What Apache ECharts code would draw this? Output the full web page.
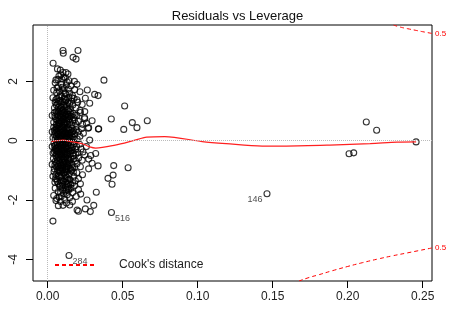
<!DOCTYPE html>
<html>
<head>
<meta charset="utf-8">
<script src="https://cdn.jsdelivr.net/npm/echarts@6.0.0/dist/echarts.min.js"></script>
<style>
  html, body { margin: 0; padding: 0; background: #fff; }
  #chart { width: 449px; height: 309px; }
</style>
</head>
<body>
<div id="chart"></div>
<script>
// tick labels
var xTicks = [0, 0.05, 0.10, 0.15, 0.20, 0.25];
var yTicks = [-4, -2, 0, 2];

// leverage / standardized residual pairs
var points = [
  // top outliers
  [0.0102,3.04],[0.0104,2.95],[0.0202,3.04],[0.0169,2.81],[0.0189,2.75],[0.0036,2.61],[0.0084,2.38],[0.0102,2.3],[0.0375,2.04],
  // 2.0 .. 2.5
  [0.0055,2.05],[0.0075,2.18],[0.0095,2.08],[0.0118,2.12],[0.0142,2.02],[0.0065,2.42],[0.0122,2.3],[0.0135,2.25],[0.0178,2.0],
  [0.0088,2.22],[0.0108,2.14],[0.0068,2.06],
  // 1.5 .. 2.0
  [0.005,1.95],[0.007,1.82],[0.009,1.9],[0.011,1.76],[0.013,1.98],[0.0155,1.85],[0.006,1.62],[0.0085,1.55],[0.0105,1.68],
  [0.012,1.58],[0.0145,1.6],[0.018,1.72],[0.0215,1.65],[0.004,1.7],[0.0165,1.52],[0.0195,1.9],
  [0.0264,1.71],[0.0313,1.56],[0.0336,1.52],[0.0251,1.43],
  [0.0078,1.68],[0.0098,1.8],[0.0125,1.88],[0.0062,1.78],[0.0115,1.6],[0.0138,1.74],
  // 1.0 .. 1.5
  [0.0035,1.45],[0.005,1.3],[0.0062,1.42],[0.0071,1.12],[0.008,1.35],[0.0088,1.22],[0.0095,1.48],[0.0103,1.05],[0.011,1.3],
  [0.0118,1.4],[0.0126,1.15],[0.0134,1.28],[0.0142,1.46],[0.015,1.08],[0.0158,1.33],[0.0167,1.2],[0.0176,1.42],[0.0188,1.1],
  [0.02,1.3],[0.0215,1.02],[0.023,1.22],[0.0045,1.1],[0.0058,1.2],[0.0067,1.02],[0.0092,1.12],[0.0115,1.2],[0.0138,1.02],
  [0.0162,1.45],[0.0195,1.38],[0.0082,1.0],[0.028,1.26],[0.0513,1.17],[0.0247,0.98],
  [0.0054,1.38],[0.0066,1.25],[0.0076,1.46],[0.0085,1.08],[0.0098,1.32],[0.0107,1.18],[0.0122,1.36],[0.013,1.06],[0.0146,1.24],
  [0.0096,1.02],[0.0112,1.44],[0.0072,1.32],
  // 0.5 .. 1.0
  [0.003,0.85],[0.004,0.62],[0.0045,0.95],[0.0052,0.75],[0.0058,0.55],[0.0063,0.88],[0.0068,0.68],[0.0073,0.98],[0.0078,0.58],
  [0.0083,0.8],[0.0088,0.92],[0.0093,0.65],[0.0098,0.52],[0.0103,0.85],[0.0108,0.72],[0.0113,0.95],[0.0118,0.6],[0.0123,0.78],
  [0.0128,0.9],[0.0133,0.55],[0.0138,0.7],[0.0143,0.98],[0.0148,0.62],[0.0155,0.82],[0.0162,0.53],[0.017,0.92],[0.0178,0.7],
  [0.0186,0.58],[0.0195,0.85],[0.0205,0.65],[0.0218,0.95],[0.0232,0.55],[0.0056,0.98],[0.0066,0.52],[0.0076,0.75],[0.0086,0.6],
  [0.0096,0.9],[0.0106,0.58],[0.0116,0.82],[0.0126,0.65],[0.0136,0.88],[0.0146,0.75],[0.0166,0.68],[0.0182,0.86],[0.0245,0.78],
  [0.0424,0.73],[0.0564,0.61],[0.0664,0.67],[0.0296,0.67],[0.0247,0.74],[0.0258,0.59],
  [0.0048,0.82],[0.006,0.7],[0.007,0.84],[0.008,0.66],[0.009,0.78],[0.01,0.7],[0.011,0.62],[0.012,0.88],[0.013,0.74],
  [0.014,0.82],[0.0152,0.94],[0.0172,0.78],[0.0092,0.97],[0.0112,0.54],[0.0074,0.6],[0.0104,0.94],
  // 0 .. 0.5
  [0.003,0.3],[0.0035,0.1],[0.004,0.45],[0.0046,0.2],[0.005,0.05],[0.0054,0.38],[0.0058,0.15],[0.0062,0.42],[0.0066,0.25],
  [0.007,0.02],[0.0074,0.35],[0.0078,0.12],[0.0082,0.48],[0.0086,0.28],[0.009,0.08],[0.0094,0.4],[0.0098,0.18],[0.0102,0.32],
  [0.0106,0.04],[0.011,0.45],[0.0114,0.22],[0.0118,0.1],[0.0122,0.38],[0.0126,0.16],[0.013,0.3],[0.0134,0.03],[0.0138,0.44],
  [0.0142,0.2],[0.0146,0.35],[0.015,0.08],[0.0156,0.27],[0.0162,0.42],[0.0168,0.12],[0.0174,0.33],[0.018,0.22],[0.0188,0.46],
  [0.0196,0.06],[0.0205,0.3],[0.0215,0.15],[0.0225,0.4],[0.0238,0.25],[0.0052,0.28],[0.0064,0.06],[0.0072,0.2],[0.0084,0.38],
  [0.0092,0.14],[0.01,0.26],[0.0108,0.36],[0.0116,0.3],[0.0124,0.06],[0.0132,0.24],[0.0144,0.1],[0.0158,0.18],[0.0176,0.05],
  [0.0192,0.36],[0.0595,0.44],[0.0507,0.38],[0.0338,0.39],[0.034,0.4],[0.0273,0.44],[0.0269,0.42],[0.028,0.02],
  [0.0044,0.34],[0.0056,0.46],[0.0068,0.4],[0.0076,0.24],[0.0088,0.16],[0.0096,0.46],[0.0112,0.14],[0.012,0.26],[0.0128,0.42],
  [0.0136,0.12],[0.0148,0.24],[0.0164,0.3],[0.0082,0.04],[0.0104,0.22],[0.006,0.32],[0.014,0.38],
  // -0.5 .. 0
  [0.003,-0.2],[0.0036,-0.42],[0.0042,-0.08],[0.0048,-0.3],[0.0053,-0.15],[0.0057,-0.46],[0.0061,-0.05],[0.0065,-0.35],
  [0.0069,-0.22],[0.0073,-0.4],[0.0077,-0.1],[0.0081,-0.28],[0.0085,-0.48],[0.0089,-0.18],[0.0093,-0.33],[0.0097,-0.03],
  [0.0101,-0.25],[0.0105,-0.44],[0.0109,-0.12],[0.0113,-0.36],[0.0117,-0.2],[0.0121,-0.47],[0.0125,-0.07],[0.0129,-0.3],
  [0.0133,-0.16],[0.0137,-0.4],[0.0141,-0.26],[0.0145,-0.02],[0.0149,-0.45],[0.0154,-0.14],[0.016,-0.32],[0.0166,-0.22],
  [0.0172,-0.42],[0.0178,-0.1],[0.0185,-0.3],[0.0193,-0.2],[0.0202,-0.4],[0.0212,-0.12],[0.0222,-0.28],[0.0235,-0.38],
  [0.0045,-0.38],[0.0055,-0.26],[0.0063,-0.12],[0.0071,-0.3],[0.0079,-0.45],[0.0087,-0.06],[0.0095,-0.38],[0.0103,-0.15],
  [0.0111,-0.27],[0.0119,-0.05],[0.0127,-0.42],[0.0139,-0.09],[0.0152,-0.36],[0.0168,-0.04],[0.0188,-0.46],
  [0.032,-0.43],[0.0287,-0.5],[0.0258,-0.2],[0.0247,-0.48],
  [0.0046,-0.18],[0.0058,-0.34],[0.0067,-0.44],[0.0075,-0.2],[0.0083,-0.38],[0.0091,-0.26],[0.0099,-0.14],[0.0107,-0.32],
  [0.0115,-0.42],[0.0123,-0.22],[0.0131,-0.46],[0.0143,-0.34],[0.0156,-0.24],[0.0062,-0.26],[0.0094,-0.48],[0.0118,-0.1],
  // -1.0 .. -0.5
  [0.003,-0.8],[0.0038,-0.6],[0.0044,-0.95],[0.005,-0.7],[0.0055,-0.52],[0.006,-0.88],[0.0064,-0.66],[0.0068,-0.98],
  [0.0072,-0.56],[0.0076,-0.78],[0.008,-0.92],[0.0084,-0.62],[0.0088,-0.84],[0.0092,-0.54],[0.0096,-0.72],[0.01,-0.96],
  [0.0104,-0.6],[0.0108,-0.82],[0.0112,-0.68],[0.0116,-0.9],[0.012,-0.55],[0.0124,-0.76],[0.0128,-0.99],[0.0132,-0.64],
  [0.0136,-0.86],[0.014,-0.58],[0.0145,-0.74],[0.015,-0.94],[0.0156,-0.62],[0.0163,-0.8],[0.017,-0.52],[0.0178,-0.9],
  [0.0186,-0.68],[0.0195,-0.78],[0.0206,-0.58],[0.0218,-0.88],[0.023,-0.66],[0.0058,-0.75],[0.0074,-0.68],[0.009,-0.92],
  [0.0106,-0.74],[0.0122,-0.95],[0.0138,-0.7],[0.0158,-0.98],[0.0176,-0.6],
  [0.0273,-0.62],[0.0296,-0.76],[0.0273,-0.95],[0.0336,-0.85],[0.044,-0.84],[0.0536,-0.91],
  [0.0048,-0.82],[0.0062,-0.58],[0.007,-0.86],[0.0082,-0.74],[0.0094,-0.64],[0.0102,-0.84],[0.011,-0.56],[0.0118,-0.72],
  [0.0126,-0.88],[0.0134,-0.78],[0.0148,-0.66],[0.0166,-0.92],[0.0086,-0.98],[0.0114,-0.98],
  // -1.5 .. -1.0
  [0.0035,-1.2],[0.0042,-1.05],[0.0048,-1.4],[0.0054,-1.15],[0.006,-1.3],[0.0066,-1.02],[0.0072,-1.45],[0.0078,-1.22],
  [0.0084,-1.08],[0.009,-1.35],[0.0096,-1.18],[0.0102,-1.48],[0.0108,-1.1],[0.0114,-1.28],[0.012,-1.4],[0.0126,-1.04],
  [0.0132,-1.25],[0.0138,-1.45],[0.0144,-1.12],[0.015,-1.32],[0.0158,-1.02],[0.0166,-1.42],[0.0175,-1.2],[0.0184,-1.35],
  [0.0194,-1.08],[0.0205,-1.28],[0.0218,-1.45],[0.0232,-1.15],[0.0064,-1.38],[0.0081,-1.5],[0.0099,-1.0],[0.0117,-1.16],
  [0.0135,-1.34],[0.0153,-1.48],[0.0171,-1.06],
  [0.0436,-1.16],[0.0402,-1.27],[0.0429,-1.47],
  [0.0052,-1.28],[0.007,-1.18],[0.0088,-1.24],[0.0106,-1.36],[0.0124,-1.22],[0.0142,-1.3],[0.0076,-1.02],[0.0112,-1.06],
  [0.0128,-1.46],[0.0094,-1.42],
  // -2.0 .. -1.5
  [0.004,-1.85],[0.005,-1.6],[0.006,-1.95],[0.007,-1.72],[0.008,-1.55],[0.009,-1.88],[0.0098,-1.65],[0.0106,-1.78],
  [0.0114,-1.98],[0.0122,-1.58],[0.013,-1.82],[0.0138,-1.68],[0.0146,-1.92],[0.0156,-1.6],[0.0166,-1.75],[0.0178,-1.52],
  [0.019,-1.88],[0.0205,-1.65],[0.022,-1.8],[0.0075,-1.9],[0.0118,-1.7],[0.0095,-1.52],[0.0324,-1.74],
  [0.0134,-1.56],[0.0142,-1.62],[0.0126,-1.66],[0.0086,-1.76],
  // -2.5 .. -2.0 and below
  [0.0071,-2.19],[0.0102,-2.18],[0.0147,-2.17],[0.0196,-2.34],[0.0205,-2.38],[0.0251,-2.3],[0.0262,-2.0],[0.0284,-2.39],
  [0.0307,-2.18],[0.0085,-2.05],[0.0125,-2.1],[0.0165,-2.05],[0.0055,-2.02],[0.0035,-2.71],
  // high leverage
  [0.2124,0.63],[0.2193,0.35],[0.2009,-0.44],[0.204,-0.41],[0.2456,-0.04]
];

// labelled observations
var labelIds = ['284', '516', '146'];
var labelLev = [0.0142, 0.0425, 0.1462];
var labelRes = [-3.87, -2.42, -1.79];

// red smoother
var smoothLev = [0.0025,0.006,0.0102,0.0158,0.0236,0.028,0.032,0.045,0.057,0.066,0.078,0.103,0.119,0.143,0.159,0.188,0.215,0.233,0.2456];
var smoothRes = [-0.03,0.0,0.02,-0.03,-0.11,-0.21,-0.25,-0.15,0.0,0.12,0.14,-0.03,-0.1,-0.18,-0.18,-0.15,-0.1,-0.05,-0.04];

// Cook's distance 0.5 contour
var cookUpLev = [0.2305,0.235,0.24,0.245,0.25,0.2562];
var cookUpRes = [3.9,3.83,3.775,3.724,3.674,3.616];
var cookLoLev = [0.1675,0.175,0.18,0.19,0.2,0.21,0.22,0.23,0.24,0.2562];
var cookLoRes = [-4.73,-4.6,-4.53,-4.38,-4.24,-4.11,-3.99,-3.88,-3.78,-3.616];

function zip(a, b) {
  var out = [];
  for (var i = 0; i < a.length; i++) out.push([a[i], b[i]]);
  return out;
}

var labelData = [];
for (var i = 0; i < labelIds.length; i++) {
  labelData.push({
    value: [labelLev[i], labelRes[i]],
    label: {
      show: true,
      formatter: labelIds[i],
      position: i == 2 ? 'left' : 'right',
      offset: i == 2 ? [1, 6] : [-2, 6]
    }
  });
}

var font = 'Liberation Sans, Arial, sans-serif';
var chart = echarts.init(document.getElementById('chart'));

var option = {
  animation: false,
  title: {
    text: 'Residuals vs Leverage',
    left: 232.5,
    textAlign: 'center',
    top: 5,
    textStyle: { fontFamily: font, fontSize: 13, fontWeight: 'normal', color: '#111' }
  },
  legend: {
    data: ["Cook's distance"],
    left: 49,
    top: 254,
    itemWidth: 41,
    itemHeight: 14,
    itemStyle: { opacity: 0 },
    textStyle: { fontFamily: font, fontSize: 12, color: '#222', padding: [0, 0, 0, 18] }
  },
  grid: {
    left: 33, top: 25, right: 17, bottom: 28,
    show: true, borderColor: '#000', borderWidth: 1, backgroundColor: 'transparent'
  },
  xAxis: {
    type: 'value',
    min: -0.0098, max: 0.2562,
    axisLine: { show: false, onZero: false },
    splitLine: { show: false },
    axisTick: { show: true, length: 7, customValues: xTicks, lineStyle: { color: '#000' } },
    axisLabel: {
      customValues: xTicks, margin: 10,
      fontFamily: font, fontSize: 12, color: '#222',
      formatter: function (v) { return v.toFixed(2); }
    }
  },
  yAxis: {
    type: 'value',
    min: -4.73, max: 3.9,
    axisLine: { show: false, onZero: false },
    splitLine: { show: false },
    axisTick: { show: true, length: 7, customValues: yTicks, lineStyle: { color: '#000' } },
    axisLabel: {
      customValues: yTicks, rotate: 90, margin: 13,
      fontFamily: font, fontSize: 12, color: '#222',
      formatter: function (v) { return String(v); }
    }
  },
  series: [
    {
      type: 'scatter',
      data: points,
      symbol: 'circle',
      symbolSize: 6,
      itemStyle: { color: 'rgba(0,0,0,0)', borderColor: '#000', borderWidth: 1.1 },
      silent: true,
      z: 3,
      markLine: {
        silent: true,
        symbol: 'none',
        label: { show: false },
        lineStyle: { color: '#bbb', type: 'dotted', width: 1 },
        data: [{ xAxis: 0 }, { yAxis: 0 }]
      }
    },
    {
      type: 'scatter',
      data: labelData,
      symbol: 'circle',
      symbolSize: 6,
      itemStyle: { color: 'rgba(0,0,0,0)', borderColor: '#000', borderWidth: 1.1 },
      label: { fontFamily: font, fontSize: 9, color: '#222', distance: 2 },
      silent: true,
      z: 3
    },
    {
      type: 'line',
      data: zip(smoothLev, smoothRes),
      showSymbol: false,
      smooth: 0.3,
      lineStyle: { color: '#ff2020', width: 1.2 },
      silent: true,
      z: 4
    },
    {
      name: "Cook's distance",
      type: 'line',
      data: zip(cookUpLev, cookUpRes),
      showSymbol: false,
      symbol: 'none',
      smooth: true,
      color: '#ff0000',
      lineStyle: { color: '#ff0000', width: 1, type: [4, 3] },
      endLabel: { show: true, formatter: '0.5', color: '#ff0000', fontFamily: font, fontSize: 8, distance: 3 },
      silent: true,
      z: 4
    },
    {
      name: "Cook's distance",
      type: 'line',
      data: zip(cookLoLev, cookLoRes),
      showSymbol: false,
      symbol: 'none',
      smooth: true,
      color: '#ff0000',
      lineStyle: { color: '#ff0000', width: 1, type: [4, 3] },
      endLabel: { show: true, formatter: '0.5', color: '#ff0000', fontFamily: font, fontSize: 8, distance: 3 },
      silent: true,
      z: 4
    }
  ]
};

chart.setOption(option);
</script>
</body>
</html>
